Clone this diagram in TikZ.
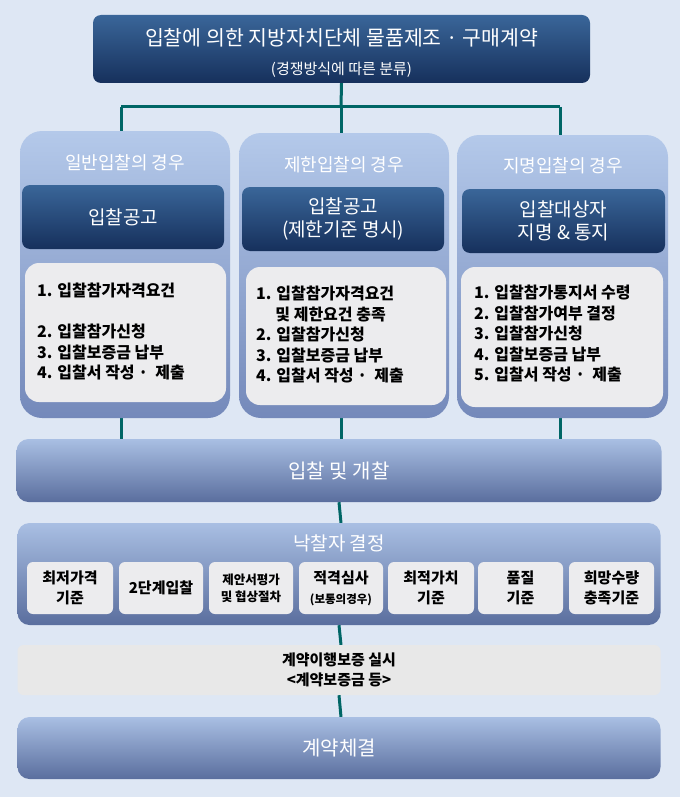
\documentclass[tikz,border=0pt]{standalone}
\usepackage{fontspec}
\setmainfont{Noto Sans CJK KR}
\begin{document}
\begin{tikzpicture}[x=1pt,y=-1pt,
  conn/.style={draw=teal!80!black,line width=3pt},
  navy/.style={rounded corners=8pt,top color=navyA,bottom color=navyB,text=white,align=center,inner sep=0pt},
  colbox/.style={rounded corners=22pt,top color=colA,bottom color=colB,inner sep=0pt},
  listbox/.style={rounded corners=14pt,fill=listG,inner sep=0pt},
  band/.style={rounded corners=12pt,top color=bandA,bottom color=bandB,text=white,inner sep=0pt,font=\fontsize{20}{22}\selectfont},
  small/.style={rounded corners=6pt,fill=listG,inner sep=0pt,minimum height=52pt,align=center,font=\bfseries\fontsize{15}{20}\selectfont},
  lst/.style={anchor=north west,align=left,font=\bfseries\fontsize{16}{20.5}\selectfont,inner sep=0pt},
  hdr/.style={text=white,font=\fontsize{18}{20}\selectfont}]
\definecolor{navyA}{HTML}{3A6699}\definecolor{navyB}{HTML}{16305C}
\definecolor{colA}{HTML}{B4C9EA}\definecolor{colB}{HTML}{7489BA}
\definecolor{listG}{HTML}{ECECEE}
\definecolor{bandA}{HTML}{A9BFE3}\definecolor{bandB}{HTML}{5A6E9E}
\definecolor{bg}{HTML}{DEE7F4}
\fill[bg] (0,0) rectangle (680,797);
\useasboundingbox (0,0) rectangle (680,797);
% top
\node[navy,minimum width=497pt,minimum height=68pt] (top) at (341.5,49) {};
\node[text=white,font=\fontsize{20.5}{22}\selectfont] (t1) at (341.5,38) {입찰에 의한 지방자치단체 물품제조 · 구매계약};
\node[text=white,font=\fontsize{15}{16}\selectfont] (t2) at (341.5,70) {(경쟁방식에 따른 분류)};
\coordinate (j) at (341,107);
% connectors behind
\draw[conn] (top.south) -- (j);
\draw[conn] (121,107) -- (560,107);
\coordinate (j1) at (121,107); \coordinate (j3) at (560,107);
\draw[conn] (j1) -- (121,445); \draw[conn] (j) -- (341,445); \draw[conn] (j3) -- (560,445);
% columns
\node[colbox,minimum width=210pt,minimum height=287pt] (c1) at (125,274.5) {};
\node[colbox,minimum width=210pt,minimum height=285pt] (c2) at (344,275.5) {};
\node[colbox,minimum width=211pt,minimum height=283pt] (c3) at (562.5,276.5) {};
\node[hdr] (h1) at (125,163) {일반입찰의 경우};
\node[hdr] (h2) at (344,165) {제한입찰의 경우};
\node[hdr] (h3) at (563,166) {지명입찰의 경우};
\node[navy,minimum width=202pt,minimum height=64pt,font=\fontsize{19}{23}\selectfont] (d1) at (123,217) {입찰공고};
\node[navy,minimum width=202pt,minimum height=64pt,font=\fontsize{19}{23}\selectfont] (d2) at (343,219) {입찰공고\\(제한기준 명시)};
\node[navy,minimum width=203pt,minimum height=64pt,font=\fontsize{19}{23}\selectfont] (d3) at (563.5,221) {입찰대상자\\지명 \& 통지};
\node[listbox,minimum width=201pt,minimum height=139pt] (l1) at (125.5,332.5) {};
\node[listbox,minimum width=200pt,minimum height=138pt] (l2) at (346,336) {};
\node[listbox,minimum width=202pt,minimum height=140pt] (l3) at (562,337) {};
\node[lst] (x1) at (37,283) {1. 입찰참가자격요건\\[0pt]\strut\\2. 입찰참가신청\\3. 입찰보증금 납부\\4. 입찰서 작성 ·\ \ 제출};
\node[lst] (x2) at (256,286) {1. 입찰참가자격요건\\\hspace*{1.2em}및 제한요건 충족\\2. 입찰참가신청\\3. 입찰보증금 납부\\4. 입찰서 작성 ·\ \ 제출};
\node[lst] (x3) at (474,285) {1. 입찰참가통지서 수령\\2. 입찰참가여부 결정\\3. 입찰참가신청\\4. 입찰보증금 납부\\5. 입찰서 작성 ·\ \ 제출};
% band
\node[band,minimum width=645pt,minimum height=63pt] (b1) at (339,470.5) {입찰 및 개찰};
\draw[conn] (b1.south) -- (341,523);
\node[band,minimum width=643pt,minimum height=102pt] (b2) at (339,574) {};
\node[hdr,font=\fontsize{19}{20}\selectfont] (b2t) at (339,543) {낙찰자 결정};
\node[small,minimum width=86pt] (s1) at (70,588) {최저가격\\기준};
\node[small,minimum width=84pt] (s2) at (161,588) {2단계입찰};
\node[small,minimum width=84pt,font=\bfseries\fontsize{12.5}{17}\selectfont] (s3) at (251,588) {제안서평가\\및 협상절차};
\node[small,minimum width=84pt] (s4) at (341,588) {적격심사\\{\fontsize{11.5}{14}\selectfont(보통의경우)}};
\node[small,minimum width=86pt] (s5) at (431,588) {최적가치\\기준};
\node[small,minimum width=85pt] (s6) at (520.5,588) {품질\\기준};
\node[small,minimum width=85pt] (s7) at (611.5,588) {희망수량\\충족기준};
\draw[conn] (b2.south) -- (341,645);
\node[rounded corners=6pt,fill=gray!18,minimum width=643pt,minimum height=50pt,align=center,inner sep=0pt,font=\bfseries\fontsize{15}{20}\selectfont] (g) at (339,670) {계약이행보증 실시\\<계약보증금 등>};
\draw[conn] (g.south) -- (341,717);
\node[band,minimum width=643pt,minimum height=62pt] (b3) at (339,748) {계약체결};
\end{tikzpicture}
\end{document}
